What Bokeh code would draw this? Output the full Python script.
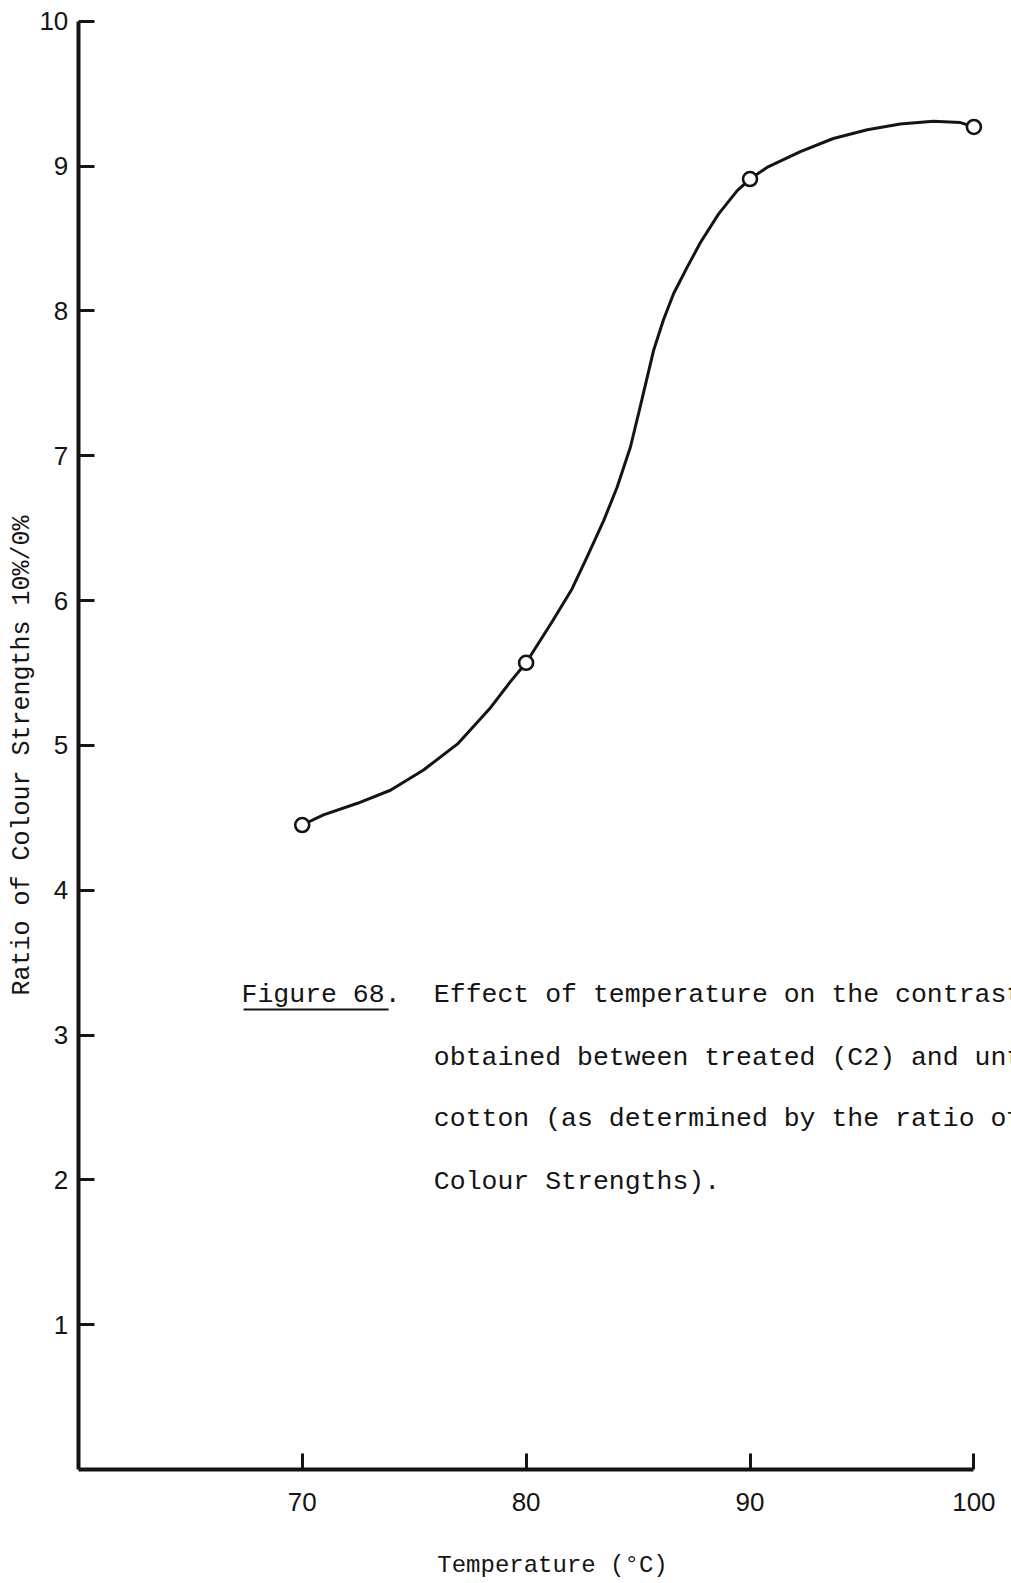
from bokeh.plotting import figure
from bokeh.models import FixedTicker, Label, Range1d, Arrow
from bokeh.embed import file_html
from bokeh.resources import INLINE

# measured data points (temperature in °C, ratio of colour strengths)
temperature = [70, 80, 90, 100]
ratio = [4.45, 5.57, 8.91, 9.27]

# hand-drawn smooth curve
curve_temperature = [70.0, 70.95, 72.47, 73.94, 75.42, 76.94, 78.41, 79.30, 80.0,
                     81.19, 82.05, 82.72, 83.46, 84.06, 84.66, 85.10, 85.70, 86.14,
                     86.59, 87.19, 87.78, 88.60, 89.43, 90.0, 90.76, 92.25, 93.72,
                     95.24, 96.71, 98.18, 99.4, 100.0]
curve_ratio = [4.45, 4.52, 4.60, 4.69, 4.83, 5.01, 5.26, 5.44, 5.57,
               5.86, 6.08, 6.30, 6.55, 6.78, 7.06, 7.34, 7.73, 7.94,
               8.12, 8.30, 8.47, 8.67, 8.83, 8.91, 8.99, 9.10, 9.19,
               9.25, 9.29, 9.31, 9.30, 9.27]

x_ticks = [70, 80, 90, 100]
y_ticks = [1, 2, 3, 4, 5, 6, 7, 8, 9, 10]

x_title = "Temperature (°C)"
y_title = "Ratio of Colour Strengths 10%/0%"
fig_label = "Figure 68."
caption_lines = [
    "Effect of temperature on the contrast",
    "obtained between treated (C2) and unt",
    "cotton (as determined by the ratio of",
    "Colour Strengths).",
]

INK = "#141414"
MONO = "Liberation Mono"

# canvas geometry (pixels) -> data ranges, so that the whole canvas is the frame
W, H = 1011, 1578
PX_X, X0_PX = 22.39, 77.8      # pixels per °C, pixel of x = 60
PX_Y, Y0_PX = 144.83, 1469.0   # pixels per unit, pixel of y = 0
x_start = 60 - X0_PX / PX_X
x_end = 60 + (W - X0_PX) / PX_X
y_end = (Y0_PX - 0) / PX_Y
y_start = -(H - Y0_PX) / PX_Y

p = figure(width=W, height=H,
           x_range=Range1d(x_start, x_end), y_range=Range1d(y_start, y_end),
           output_backend="svg", toolbar_location=None,
           min_border=0, min_border_left=0, min_border_right=0,
           min_border_top=0, min_border_bottom=0)
p.xgrid.visible = False
p.ygrid.visible = False
p.outline_line_color = None
p.background_fill_color = "white"
p.border_fill_color = "white"

for ax in (p.xaxis[0], p.yaxis[0]):
    ax.axis_line_width = 4
    ax.axis_line_color = INK
    ax.major_tick_in = 16
    ax.major_tick_out = 0
    ax.major_tick_line_width = 3
    ax.major_tick_line_color = INK
    ax.minor_tick_line_color = None
    ax.major_label_text_font = "Liberation Sans"
    ax.major_label_text_font_size = "26px"
    ax.major_label_text_color = INK

p.xaxis[0].ticker = FixedTicker(ticks=x_ticks)
p.xaxis[0].fixed_location = 0
p.xaxis[0].bounds = (60, 100)
p.xaxis[0].major_label_standoff = 23
p.yaxis[0].ticker = FixedTicker(ticks=y_ticks)
p.yaxis[0].fixed_location = 60
p.yaxis[0].bounds = (0, 10)
p.yaxis[0].major_label_standoff = 10

p.line(curve_temperature, curve_ratio, line_width=3, line_color=INK,
       line_join="round", line_cap="round")
p.scatter(temperature, ratio, marker="circle", size=14, fill_color="white",
          line_color=INK, line_width=2.6)

# axis titles
p.add_layout(Label(x=x_start + 22 / PX_X, y=(Y0_PX - 755) / PX_Y, text=y_title,
                   angle=90, angle_units="deg", text_align="center",
                   text_baseline="middle", text_font=MONO,
                   text_font_size="25px", text_color=INK))
p.add_layout(Label(x=60 + (552 - X0_PX) / PX_X, y=(Y0_PX - 1565) / PX_Y,
                   text=x_title, text_align="center",
                   text_baseline="middle", text_font=MONO,
                   text_font_size="24px", text_color=INK))

# caption
p.add_layout(Label(x=67.29, y=3.273, text=fig_label, text_baseline="middle",
                   text_font=MONO, text_font_size="26.5px", text_color=INK))
p.add_layout(Arrow(end=None, x_start=67.38, y_start=3.176, x_end=73.86, y_end=3.176,
                   line_width=2, line_color=INK))
caption_y = [3.273, 2.838, 2.417, 1.982]
for txt, yy in zip(caption_lines, caption_y):
    p.add_layout(Label(x=75.88, y=yy, text=txt, text_baseline="middle",
                       text_font=MONO, text_font_size="26.5px", text_color=INK))

open("out.html", "w").write(file_html(p, INLINE))
